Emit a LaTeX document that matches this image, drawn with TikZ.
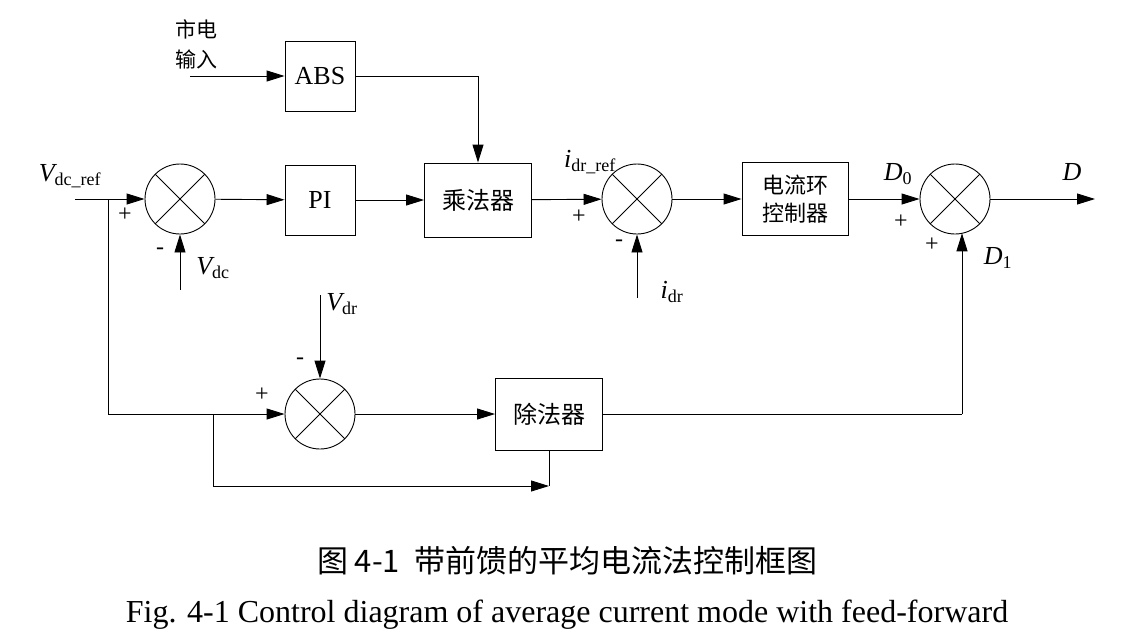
\documentclass[tikz,border=0pt]{standalone}
\usepackage{fontspec}
\setmainfont{Liberation Serif}
\newfontfamily\cjk{Noto Sans CJK SC}
\usetikzlibrary{arrows.meta}
\begin{document}
\begin{tikzpicture}[x=1pt,y=-1pt,
  blk/.style={draw,line width=0.9pt,minimum width=#1,inner sep=0pt},
  sum/.style={draw,line width=0.9pt,circle,minimum size=70pt,inner sep=0pt,path picture={
    \draw[line width=0.9pt] (path picture bounding box.south west)++(10.25pt,10.25pt) -- ([shift={(-10.25pt,-10.25pt)}]path picture bounding box.north east);
    \draw[line width=0.9pt] ([shift={(10.25pt,-10.25pt)}]path picture bounding box.north west) -- ([shift={(-10.25pt,10.25pt)}]path picture bounding box.south east);}},
  ln/.style={line width=0.9pt},
  ar/.style={line width=0.9pt,-{Triangle[length=18pt,width=11pt]}},
  lab/.style={font=\fontsize{26}{28}\selectfont\itshape},
  pm/.style={font=\fontsize{24}{26}\selectfont},
  zh/.style={font=\cjk\fontsize{24}{28}\selectfont,align=center}]
\useasboundingbox (0,0) rectangle (1141,641);
\node[blk,minimum width=70pt,minimum height=70pt,font=\fontsize{26}{28}\selectfont] (abs) at (320,76) {ABS};
\node[blk,minimum width=70pt,minimum height=70pt,font=\fontsize{26}{28}\selectfont] (pi) at (320,200) {PI};
\node[blk,minimum width=107pt,minimum height=74pt,zh] (mul) at (478,200) {乘法器};
\node[blk,minimum width=106pt,minimum height=73pt,zh,font=\cjk\fontsize{22}{28}\selectfont] (cur) at (795,199) {电流环\\控制器};
\node[blk,minimum width=107pt,minimum height=72pt,zh] (div) at (549,414) {除法器};
\node[sum] (s1) at (180,199) {};
\node[sum] (s2) at (637,199) {};
\node[sum] (s4) at (955,199) {};
\node[sum] (s3) at (320,414) {};
\node[zh,font=\cjk\fontsize{21}{30}\selectfont] (in) at (196,44) {市电\\输入};
\coordinate (inS) at (190,76);
\draw[ar] (inS) -- (abs);
\coordinate (absc) at (478,76);
\draw[ln] (abs) -- (absc);
\draw[ar] (absc) -- (mul);
\coordinate (ref) at (75,199);
\coordinate (br) at (108,199);
\draw[ar] (ref) -- (s1);
\draw[ar] (s1) -- (pi);
\draw[ar] (pi) -- (mul);
\draw[ar] (mul) -- (s2);
\draw[ar] (s2) -- (cur);
\draw[ar] (cur) -- (s4);
\coordinate (Dout) at (1095,199);
\draw[ar] (s4) -- (Dout);
\coordinate (vdc) at (180,290);
\draw[ar] (vdc) -- (s1);
\coordinate (idr) at (637,298);
\draw[ar] (idr) -- (s2);
\coordinate (vdr) at (320,295);
\draw[ar] (vdr) -- (s3);
\coordinate (bl) at (108,414);
\draw[ln] (br) -- (bl);
\draw[ar] (bl) -- (s3);
\draw[ar] (s3) -- (div);
\coordinate (dr) at (962,414);
\coordinate (s4b) at (962,233.3);
\draw[ln] (div) -- (dr);
\draw[ar] (dr) -- (s4b);
\coordinate (j1) at (213,414);
\coordinate (j2) at (213,486);
\coordinate (j3) at (549,486);
\draw[ln] (j1) -- (j2);
\draw[ar] (j2) -- (j3);
\draw[ln] (div.south) -- (j3);
% labels
\node[lab] (l1) at (70,176) {V\textsubscript{\normalfont\fontsize{18}{20}\selectfont dc\_ref}};
\node[pm] (p1) at (125,215) {+};
\node[pm] (m1) at (160,251) {-};
\node[lab] (l2) at (213,268) {V\textsubscript{\normalfont\fontsize{18}{20}\selectfont dc}};
\node[lab] (l3) at (590,162) {i\textsubscript{\normalfont\fontsize{18}{20}\selectfont dr\_ref}};
\node[pm] (p2) at (579,217) {+};
\node[pm] (m2) at (619,243) {-};
\node[lab] (l4) at (672,292) {i\textsubscript{\normalfont\fontsize{18}{20}\selectfont dr}};
\node[lab] (l5) at (898,174) {D\textsubscript{\normalfont\fontsize{18}{20}\selectfont 0}};
\node[pm] (p3) at (901,222) {+};
\node[pm] (p4) at (932,245) {+};
\node[lab] (l6) at (998,258) {D\textsubscript{\normalfont\fontsize{18}{20}\selectfont 1}};
\node[lab] (l7) at (1072,172) {D};
\node[lab] (l8) at (342,304) {V\textsubscript{\normalfont\fontsize{18}{20}\selectfont dr}};
\node[pm] (m3) at (300,361) {-};
\node[pm] (p5) at (262,395) {+};
\node[font=\cjk\fontsize{31}{32}\selectfont] (cap1) at (567,561) {图 4-1\ \ 带前馈的平均电流法控制框图};
\node[font=\fontsize{32}{34}\selectfont] (cap2) at (567,615) {Fig. 4-1 Control diagram of average current mode with feed-forward};
\end{tikzpicture}
\end{document}
